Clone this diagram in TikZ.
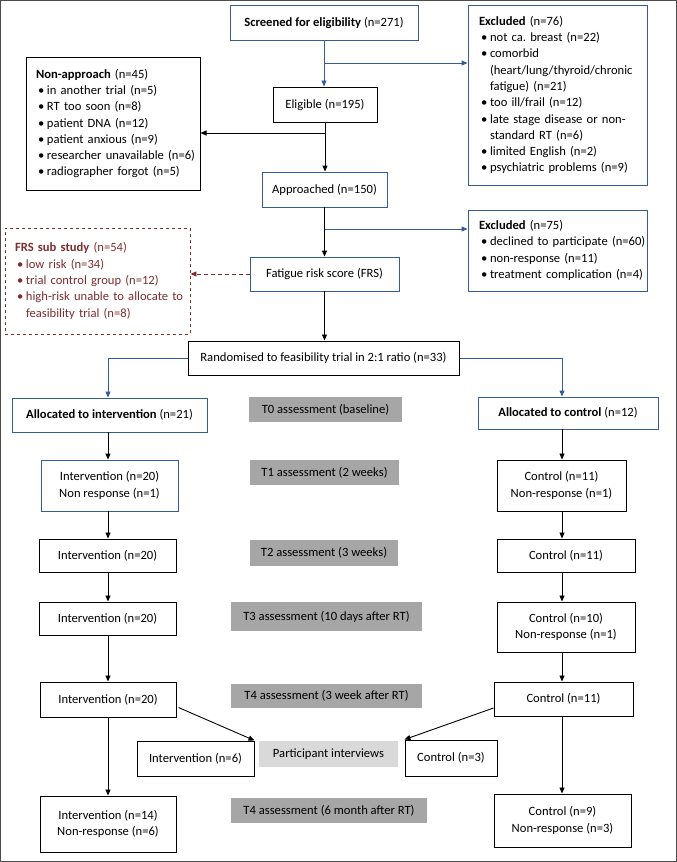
\documentclass[tikz,border=0pt]{standalone}
\usepackage{fontspec}
\setmainfont{Carlito}
\usepackage{tikz}
\usetikzlibrary{arrows.meta}
\definecolor{boxblue}{RGB}{52,92,150}
\definecolor{frsred}{RGB}{125,45,45}
\definecolor{stagegray}{RGB}{166,166,166}
\definecolor{talkgray}{RGB}{217,217,217}
\newcommand{\bul}{\hspace*{2pt}\makebox[9pt][l]{\textbullet}}
\newcommand{\bulgap}{\hspace*{11pt}}
\frenchspacing
\tikzset{
	sz/.style 2 args={minimum width=#1pt, minimum height=#2pt},
	bbox/.style={draw=black, line width=1pt, align=center, inner sep=0pt},
	bluebox/.style={draw=boxblue, line width=0.9pt, align=center, inner sep=0pt},
	listbox/.style={align=left, inner xsep=10pt, inner ysep=0pt, text width=#1pt},
	stage/.style={fill=stagegray, inner sep=0pt, align=center},
	arr/.style={line width=0.9pt, -{Triangle[length=6pt,width=5pt]}},
	barr/.style={arr, draw=boxblue},
}
\begin{document}
\begin{tikzpicture}[x=1pt, y=-1pt, font=\fontsize{12.6}{16.3}\selectfont\frenchspacing]
							\useasboundingbox (0,0) rectangle (677,862);
							\draw[line width=1pt, black!70] (0.5,0.5) rectangle (676,861);
							
							\node[bluebox, sz={188}{35}] (scr) at (324,22.5) {\textbf{Screened for eligibility} (n=271)};
							\node[bluebox, listbox=157, inner xsep=11pt, sz={179}{180}] (ex1) at (557.5,95) {\textbf{Excluded} (n=76)\\
								\bul not ca. breast (n=22)\\
								\bul comorbid\\
								\bulgap \mbox{(heart/lung/thyroid/chronic}\\
								\bulgap fatigue) (n=21)\\
								\bul too ill/frail (n=12)\\
								\bul \mbox{late stage disease or non-}\\
								\bulgap standard RT (n=6)\\
								\bul limited English (n=2)\\
								\bul \mbox{psychiatric problems (n=9)}};
							\node[bbox, sz={104}{35}] (elig) at (325,104.5) {Eligible (n=195)};
							\node[bbox, listbox=154, sz={174}{133}] (nonapp) at (113,123.5) {\textbf{Non-approach} (n=45)\\
								\bul in another trial (n=5)\\
								\bul RT too soon (n=8)\\
								\bul patient DNA (n=12)\\
								\bul patient anxious (n=9)\\
								\bul \mbox{researcher unavailable (n=6)}\\
								\bul \mbox{radiographer forgot (n=5)}};
							\node[bluebox, sz={125}{35}] (appr) at (324.5,189.5) {Approached (n=150)};
							\node[bluebox, listbox=157, inner xsep=11pt, sz={179}{81}] (ex2) at (557.5,250.5) {\textbf{Excluded} (n=75)\\
								\bul \mbox{declined to participate (n=60)}\\
								\bul non-response (n=11)\\
								\bul \mbox{treatment complication (n=4)}};
							\node[bluebox, sz={149}{34}] (frs) at (324.5,274) {Fatigue risk score (FRS)};
							\node[draw=frsred, line width=0.9pt, dashed, text=frsred, listbox=165, sz={185}{106}] (sub) at (97.5,281) {\textbf{FRS sub study} (n=54)\\
								\bul low risk (n=34)\\
								\bul trial control group (n=12)\\
								\bul \mbox{high-risk unable to allocate to}\\
								\bulgap feasibility trial (n=8)};
							\node[bbox, sz={271}{34}] (rand) at (323.5,358) {Randomised to feasibility trial in 2:1 ratio (n=33)};
							
							\node[bluebox, sz={195}{34}] (alli) at (109.5,415) {\textbf{Allocated to intervention} (n=21)};
							\node[stage, sz={153}{25}] (t0) at (325.5,409.5) {T0 assessment (baseline)};
							\node[bluebox, sz={180}{32}] (allc) at (568,413) {\textbf{Allocated to control} (n=12)};
							
							\node[bluebox, sz={137}{51}] (i1) at (109.5,485.5) {Intervention (n=20)\\Non response (n=1)};
							\node[stage, sz={149}{25}] (t1) at (324.5,472.5) {T1 assessment (2 weeks)};
							\node[bbox, sz={129}{51}] (c1) at (561.5,485.5) {Control (n=11)\\Non-response (n=1)};
							
							\node[bbox, sz={137}{33}] (i2) at (107.5,555.5) {Intervention (n=20)};
							\node[stage, sz={148}{26}] (t2) at (324,553) {T2 assessment (3 weeks)};
							\node[bbox, sz={138}{33}] (c2) at (566,555.5) {Control (n=11)};
							
							\node[bbox, sz={137}{33}] (i3) at (107.5,618.5) {Intervention (n=20)};
							\node[stage, sz={191}{29}] (t3) at (326.5,616.5) {T3 assessment (10 days after RT)};
							\node[bbox, sz={138}{50}] (c3) at (566,627) {Control (n=10)\\Non-response (n=1)};
							
							\node[bbox, sz={136}{35}] (i4) at (108,699.5) {Intervention (n=20)};
							\node[stage, sz={191}{24}] (t4) at (326.5,696) {T4 assessment (3 week after RT)};
							\node[bbox, sz={139}{34}] (c4) at (563.5,699) {Control (n=11)};
							
							\node[bbox, sz={117}{35}] (iint) at (195.5,758.5) {Intervention (n=6)};
							\node[stage, fill=talkgray, sz={139}{26}] (pint) at (328.5,754) {Participant interviews};
							\node[bbox, sz={92}{36}] (cint) at (451,758) {Control (n=3)};
							
							\node[bbox, sz={136}{56}] (i5) at (108,824) {Intervention (n=14)\\Non-response (n=6)};
							\node[stage, sz={196}{25}] (t5) at (329,810.5) {T4 assessment (6 month after RT)};
							\node[bbox, sz={137}{53}] (c5) at (562.5,820.5) {Control (n=9)\\Non-response (n=3)};
							
							\coordinate (b1) at (324,63);
							\coordinate (b2) at (325,133);
							\coordinate (b3) at (325,229);
							\coordinate (xi) at (108,0);
							\coordinate (xc) at (562,0);
							
							\draw[barr] (scr.south) -- (scr.south |- elig.north);
							\draw[barr] (b1) -- (b1 -| ex1.west);
							\draw[arr] (elig.south) -- (elig.south |- appr.north);
							\draw[arr] (b2) -- (b2 -| nonapp.east);
							\draw[arr] (appr.south) -- (appr.south |- frs.north);
							\draw[barr] (b3) -- (b3 -| ex2.west);
							\draw[arr, frsred, dash pattern=on 4pt off 3pt] (frs.west) -- (frs.west -| sub.east);
							\draw[arr] (frs.south) -- (frs.south |- rand.north);
							\draw[barr] (rand.west) -| (alli.north -| xi);
							\draw[barr] (rand.east) -| (allc.north -| xc);
							
							\draw[arr] (alli.south -| xi) -- (i1.north -| xi);
							\draw[arr] (i1.south -| xi) -- (i2.north -| xi);
							\draw[arr] (i2.south -| xi) -- (i3.north -| xi);
							\draw[arr] (i3.south -| xi) -- (i4.north -| xi);
							\draw[arr] (i4.south -| xi) -- (i5.north -| xi);
							\draw[arr] (allc.south -| xc) -- (c1.north -| xc);
							\draw[arr] (c1.south -| xc) -- (c2.north -| xc);
							\draw[arr] (c2.south -| xc) -- (c3.north -| xc);
							\draw[arr] (c3.south -| xc) -- (c4.north -| xc);
							\draw[arr] (c4.south -| xc) -- (c5.north -| xc);
							\draw[arr] ([shift={(2,8)}]i4.east) -- (iint.north east);
							\draw[arr] ([shift={(0,9)}]c4.west) -- (cint.north west);
						\end{tikzpicture}
\end{document}
